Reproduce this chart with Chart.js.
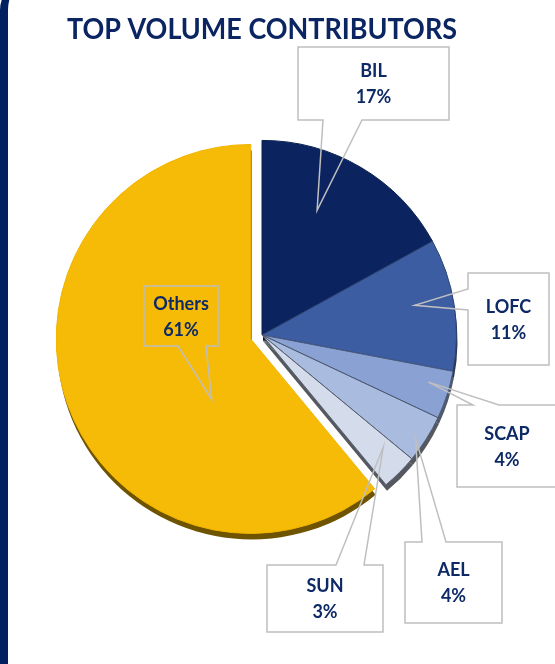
<!DOCTYPE html>
<html>
<head>
<meta charset="utf-8">
<script src="https://cdn.jsdelivr.net/npm/chart.js@4.4.0/dist/chart.umd.min.js"></script>
<style>
    html, body { margin: 0; padding: 0; background: #fff; }
    #frame {
        position: absolute; left: 0; top: -20px; width: 620px; height: 740px;
        border-left: 8px solid #002060; border-radius: 30px 0 0 30px; box-sizing: border-box;
    }
    #wrap { position: absolute; left: 0; top: 0; width: 555px; height: 664px; }
</style>
</head>
<body>
<div id="frame"></div>
<div id="wrap"><canvas id="volumeChart"></canvas></div>
<script>
// Top volume contributors, share of volume (%)
const categories = ['BIL', 'LOFC', 'SCAP', 'AEL', 'SUN', 'Others'];
const shares = [17, 11, 4, 4, 3, 61];
const shareLabels = ['17%', '11%', '4%', '4%', '3%', '61%'];

const sliceColors = ['#0b2460', '#3c5da1', '#8aa2d3', '#a9bbdf', '#d4dcec', '#f6bb07'];
const edgeColors = ['#08204f', '#2c426e', '#4a5a7c', '#4d5870', '#58606e', '#f2b400'];
const depthColors = ['#061537', '#2a3650', '#515a6a', '#55595f', '#55585e', '#6e5400'];
const explode = [0, 0, 0, 0, 0, 12];

// callout boxes: box, side where the pointer leaves, pointer base, tip (fraction of sweep, fraction of radius)
const callouts = [
    { x: 298, y: 47, w: 151, h: 73, side: 'bottom', base: [323, 362], tip: [0.39, 0.70] },
    { x: 468, y: 273, w: 81, h: 92, side: 'left', base: [289, 310], tip: [0.45, 0.80] },
    { x: 457, y: 405, w: 100, h: 82, side: 'top', base: [473, 499], tip: [0.35, 0.89] },
    { x: 405, y: 542, w: 97, h: 81, side: 'top', base: [422, 446], tip: [0.6, 0.95] },
    { x: 267, y: 565, w: 116, h: 67, side: 'top', base: [336, 364], tip: [0.3, 0.85] },
    { x: 144, y: 286, w: 74, h: 60, side: 'bottom', base: [178, 206], tip: [0.33, 0.37] }
];

const explodePlugin = {
    id: 'explode',
    afterDatasetsUpdate(chart) {
        chart.getDatasetMeta(0).data.forEach((arc, i) => {
            if (!explode[i]) return;
            const mid = (arc.startAngle + arc.endAngle) / 2;
            arc.x += Math.cos(mid) * explode[i];
            arc.y += Math.sin(mid) * explode[i];
        });
    }
};

// darker copy under each slice for the 3D rim
const depthPlugin = {
    id: 'depth',
    beforeDatasetsDraw(chart) {
        const ctx = chart.ctx;
        ctx.save();
        chart.getDatasetMeta(0).data.forEach((arc, i) => {
            const p = arc.getProps(['x', 'y', 'startAngle', 'endAngle', 'outerRadius']);
            ctx.beginPath();
            ctx.moveTo(p.x + 1, p.y + 6);
            ctx.arc(p.x + 1, p.y + 6, p.outerRadius, p.startAngle, p.endAngle);
            ctx.closePath();
            ctx.fillStyle = depthColors[i];
            ctx.fill();
        });
        ctx.restore();
    }
};

const calloutPlugin = {
    id: 'callouts',
    afterDraw(chart) {
        const ctx = chart.ctx;
        const arcs = chart.getDatasetMeta(0).data;
        ctx.save();
        ctx.strokeStyle = '#bfbfbf';
        ctx.lineWidth = 1.5;
        ctx.lineJoin = 'miter';
        callouts.forEach((c, i) => {
            const arc = arcs[i];
            const a = arc.startAngle + c.tip[0] * (arc.endAngle - arc.startAngle);
            const tx = arc.x + Math.cos(a) * arc.outerRadius * c.tip[1];
            const ty = arc.y + Math.sin(a) * arc.outerRadius * c.tip[1];
            const l = c.x, t = c.y, r = c.x + c.w, b = c.y + c.h;
            ctx.beginPath();
            ctx.moveTo(l, t);
            if (c.side === 'top') {
                ctx.lineTo(c.base[0], t); ctx.lineTo(tx, ty); ctx.lineTo(c.base[1], t);
            }
            ctx.lineTo(r, t);
            ctx.lineTo(r, b);
            if (c.side === 'bottom') {
                ctx.lineTo(c.base[1], b); ctx.lineTo(tx, ty); ctx.lineTo(c.base[0], b);
            }
            ctx.lineTo(l, b);
            if (c.side === 'left') {
                ctx.lineTo(l, c.base[1]); ctx.lineTo(tx, ty); ctx.lineTo(l, c.base[0]);
            }
            ctx.closePath();
            ctx.stroke();

            ctx.fillStyle = '#0d2a66';
            ctx.font = 'bold 18px Lato';
            ctx.textAlign = 'center';
            ctx.textBaseline = 'middle';
            const cx = c.x + c.w / 2, cy = c.y + c.h / 2;
            ctx.fillText(categories[i], cx, cy - 12);
            ctx.fillText(shareLabels[i], cx, cy + 14);
        });
        ctx.restore();
    }
};

const volumeChart = new Chart(document.getElementById('volumeChart'), {
    type: 'pie',
    data: {
        labels: categories,
        datasets: [{
            data: shares,
            backgroundColor: sliceColors,
            borderColor: edgeColors,
            borderWidth: 1
        }]
    },
    options: {
        responsive: true,
        maintainAspectRatio: false,
        animation: false,
        layout: {
            padding: { left: 67, right: 98, top: 0, bottom: 134 }
        },
        plugins: {
            legend: { display: false },
            tooltip: { enabled: false },
            title: {
                display: true,
                text: 'TOP VOLUME CONTRIBUTORS',
                color: '#0b2563',
                font: { family: 'Lato', size: 29, weight: 'bold' },
                padding: { top: 12, bottom: 93 }
            }
        }
    },
    plugins: [explodePlugin, depthPlugin, calloutPlugin]
});
</script>
</body>
</html>
